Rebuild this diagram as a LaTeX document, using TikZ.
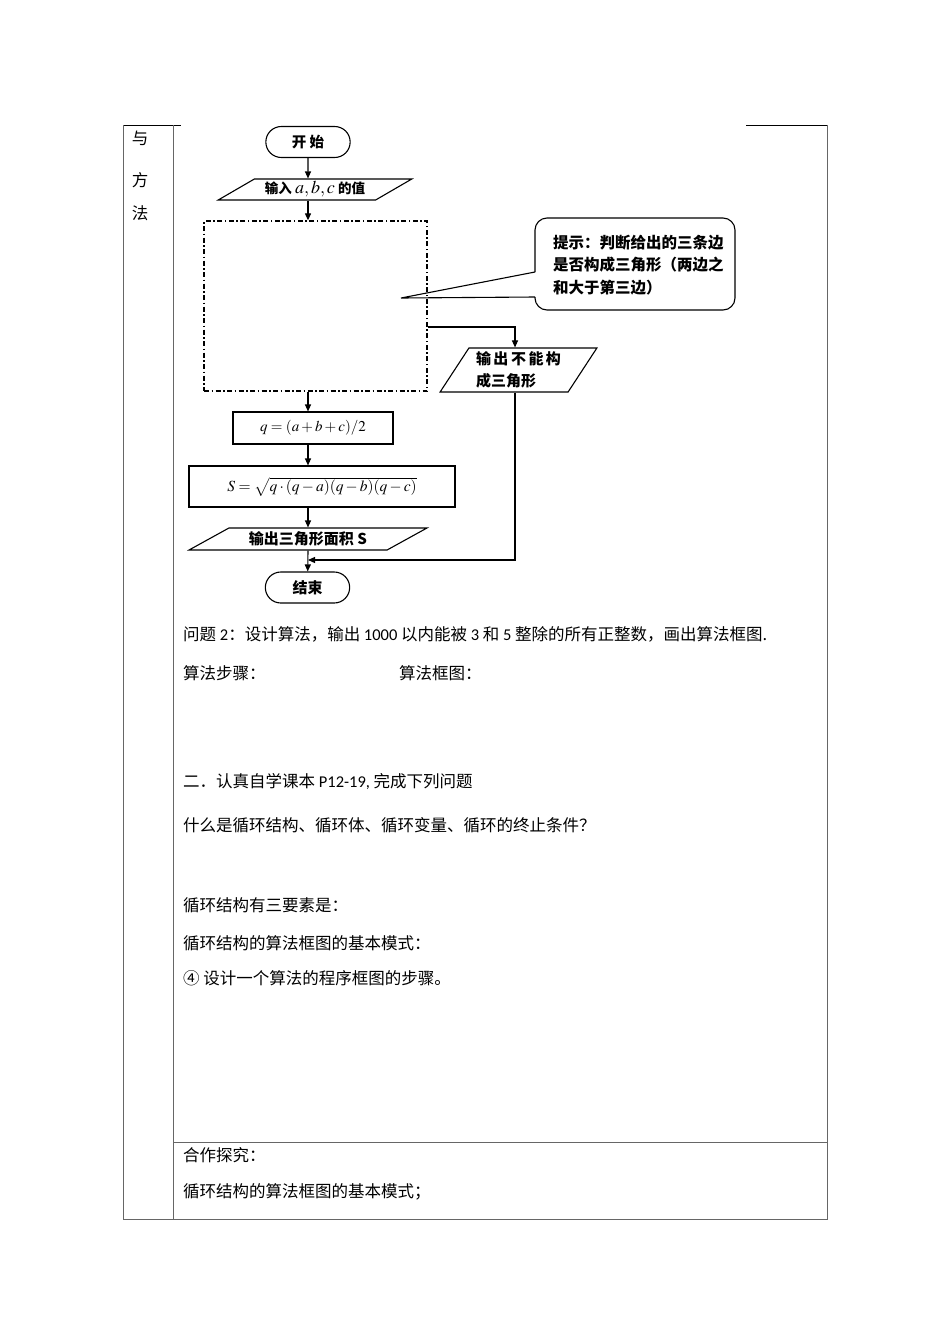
\documentclass[tikz,border=0pt]{standalone}
\usepackage{mathptmx}
\usepackage{fontspec}
\setmainfont{Noto Sans CJK SC}
\newfontfamily\latin{Carlito}
\usetikzlibrary{shapes.geometric, shapes.misc, arrows.meta}

\newcommand{\bodysize}{\fontsize{16.5}{20}\selectfont}

\begin{document}
\begin{tikzpicture}[x=1pt, y=-1pt,
    term/.style={rounded rectangle, draw, line width=1.1pt, minimum width=91pt, minimum height=31pt, font=\bfseries\fontsize{14.5}{17}\selectfont},
    io/.style={trapezium, trapezium stretches=true, draw, line width=1.1pt, inner sep=0pt},
    proc/.style={rectangle, draw, line width=1.1pt, inner sep=0pt},
    flow/.style={-{Triangle[length=7pt, width=6pt]}, line width=1.1pt},
    body/.style={anchor=west, inner sep=0pt, font=\bodysize},
    rule/.style={black!60, line width=0.9pt}]
        \fill[white] (0,0) rectangle (950,1344);
        \useasboundingbox (0,0) rectangle (950,1344);

        % Draw table
        \draw[black, line width=0.9pt] (123,125) -- (181,125);
        \draw[black, line width=0.9pt] (746,125) -- (827,125);
        \draw[rule] (123,125) -- (123,1219) -- (827,1219) -- (827,125);
        \draw[rule] (173,125) -- (173,1219);
        \draw[rule] (173,1142) -- (827,1142);
        \node[font=\bodysize, inner sep=0pt] (yu) at (140,138) {与};
        \node[font=\bodysize, inner sep=0pt] (fang) at (140,180) {方};
        \node[font=\bodysize, inner sep=0pt] (fa) at (140,213) {法};

        % Draw nodes
        \node[term] (start) at (308,142) {开 始};
        \node[io, trapezium left angle=28, trapezium right angle=152, minimum width=194pt, minimum height=21pt, font=\bfseries\fontsize{13.5}{16}\selectfont] (input) at (315,189.5) {输入 {\fontsize{18}{20}\selectfont$a,b,c$} 的值};
        \node[draw, line width=1.3pt, dash pattern=on 5pt off 2.5pt on 1.5pt off 2.5pt, minimum width=223pt, minimum height=170pt] (judge) at (315.5,306) {};
        \node[io, trapezium left angle=56, trapezium right angle=124, minimum width=157pt, minimum height=44pt, align=left, font=\bfseries\fontsize{15}{22}\selectfont] (nocan) at (518.5,370) {输\,出\,不\,能\,构\\成三角形};
        \node[proc, minimum width=160pt, minimum height=32pt, font=\fontsize{15}{18}\selectfont] (qbox) at (313,428) {\raisebox{-5pt}{$q=(a+b+c)/2$}};
        \node[proc, minimum width=266pt, minimum height=41pt, font=\fontsize{15.5}{18}\selectfont] (sbox) at (322,486.5) {$S=\sqrt{q\cdot(q-a)(q-b)(q-c)}$};
        \node[io, trapezium left angle=26, trapezium right angle=154, minimum width=238pt, minimum height=22pt, font=\bfseries\fontsize{15}{18}\selectfont] (output) at (308,539) {输出三角形面积 S};
        \node[term, font=\bfseries\fontsize{15}{18}\selectfont] (end) at (307.5,587.5) {结束};
        \coordinate (join) at (308,560);

        % Hint callout
        \node[anchor=west, align=left, inner sep=0pt, font=\bfseries\fontsize{15.5}{22.5}\selectfont] (hint) at (553,265) {提示：判断给出的三条边\\是否构成三角形（两边之\\和大于第三边）};
        \coordinate (tip) at (401,298);
        \draw[line width=1.1pt, rounded corners=12pt] (535,272) -- (535,218) -- (735,218) -- (735,310) -- (535,310) -- (535,297);
        \draw[line width=1.1pt] (535,272) -- (tip) -- (535,297);

        % Draw connections
        \draw[flow] (start) -- (start |- input.north);
        \draw[flow] (input.south -| start) -- (judge.north -| start);
        \draw[flow] (judge.south -| start) -- (qbox.north -| start);
        \draw[flow] (qbox.south -| start) -- (sbox.north -| start);
        \draw[flow] (sbox.south -| start) -- (output.north -| start);
        \draw[flow] (output.south -| start) -- (end);
        \draw[flow] ([yshift=-21pt]judge.east) -| ([xshift=-3.5pt]nocan.north);
        \draw[flow] ([xshift=-3.5pt]nocan.south) |- (join);

        % Labels
        \node[body] (q2) at (183,634) {问题 {\latin 2}：设计算法，输出 {\latin 1000} 以内能被 {\latin 3} 和 {\latin 5} 整除的所有正整数，画出算法框图.};
        \node[body] (steps) at (183,673) {算法步骤：};
        \node[body] (chart) at (399,673) {算法框图：};
        \node[body] (er) at (183,782) {二．认真自学课本 {\latin P12-19,} 完成下列问题};
        \node[body] (what) at (183,825) {什么是循环结构、循环体、循环变量、循环的终止条件？};
        \node[body] (three) at (183,905) {循环结构有三要素是：};
        \node[body] (mode) at (183,943) {循环结构的算法框图的基本模式：};
        \node[body] (design) at (183,978) {④ 设计一个算法的程序框图的步骤。};
        \node[body] (coop) at (183,1155) {合作探究：};
        \node[body] (mode2) at (183,1192) {循环结构的算法框图的基本模式；};
    \end{tikzpicture}
\end{document}
